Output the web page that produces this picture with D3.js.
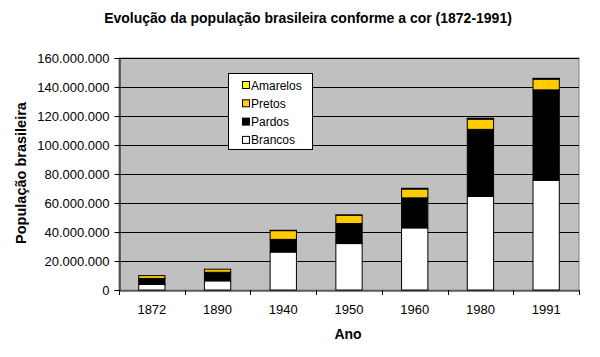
<!DOCTYPE html>
<html><head><meta charset="utf-8">
<script src="https://cdn.jsdelivr.net/npm/d3@7"></script>
<style>body{margin:0;background:#fff}svg{display:block;font-family:"Liberation Sans",Arial,sans-serif}</style>
</head><body>
<svg id="c" width="600" height="357"></svg>
<script>
const years = ["1872","1890","1940","1950","1960","1980","1991"];
const brancos = [3787289, 6302198, 26171778, 32027661, 42838639, 64540467, 75704927];
const pardos = [4188737, 5934291, 8744365, 13786742, 20706431, 46233531, 62316064];
const pretos = [1954452, 2097426, 6035869, 5692657, 6116848, 7046906, 7335136];
const amarelos = [0, 0, 242320, 329082, 482848, 672251, 630656];
const seriesNames = ["Brancos","Pardos","Pretos","Amarelos"];
const seriesColors = ["#ffffff","#000000","#ffcc00","#ffff00"];
const yTicks = [0,20e6,40e6,60e6,80e6,100e6,120e6,140e6,160e6];

const svg = d3.select("#c");
const L=119, R=579, T=58, B=290;
const x = d3.scaleBand().domain(years).range([L,R]).padding(0);
const y = d3.scaleLinear().domain([0,160e6]).range([B,T]);
const loc = d3.formatLocale({decimal:",",thousands:".",grouping:[3],currency:["",""]});
const fmt = loc.format(",.0f");

// plot area
svg.append("rect").attr("x",L).attr("y",T).attr("width",R-L).attr("height",B-T)
  .attr("fill","#c0c0c0").attr("stroke","#808080").attr("stroke-width",1);
// grid
svg.append("g").selectAll("line").data(yTicks.slice(1)).join("line")
  .attr("x1",L).attr("x2",R).attr("y1",d=>Math.round(y(d))+0.5).attr("y2",d=>Math.round(y(d))+0.5)
  .attr("stroke","#000").attr("stroke-width",1);

// stacked bars
const table = years.map((yr,i)=>({year:yr,Brancos:brancos[i],Pardos:pardos[i],Pretos:pretos[i],Amarelos:amarelos[i]}));
const stack = d3.stack().keys(seriesNames)(table);
const bw = x.bandwidth()*0.4;
const g = svg.append("g");
stack.forEach((s,si)=>{
  g.selectAll(null).data(s).join("rect")
    .attr("x",d=>x(d.data.year)+(x.bandwidth()-bw)/2)
    .attr("width",bw)
    .attr("y",d=>y(d[1]))
    .attr("height",d=>Math.max(0,y(d[0])-y(d[1])))
    .attr("fill",seriesColors[si])
    .attr("stroke","#000").attr("stroke-width",1);
});

// y axis
const ya = svg.append("g").attr("transform",`translate(${L+0.5},0)`)
  .call(d3.axisLeft(y).tickValues(yTicks).tickFormat(fmt).tickSize(5).tickPadding(5));
ya.select(".domain").attr("stroke","#000");
ya.selectAll("text").attr("font-size","13px").attr("fill","#000").attr("font-family","Liberation Sans, Arial, sans-serif");
// x axis
const xa = svg.append("g").attr("transform",`translate(0,${B+0.5})`)
  .call(d3.axisBottom(x).tickSize(0).tickPadding(14));
xa.select(".domain").attr("stroke","#000");
xa.selectAll("text").attr("font-size","13px").attr("fill","#000").attr("font-family","Liberation Sans, Arial, sans-serif");
svg.append("g").selectAll("line").data(years.concat(["end"])).join("line")
  .attr("x1",(d,i)=>Math.round(L+i*x.step())+0.5).attr("x2",(d,i)=>Math.round(L+i*x.step())+0.5)
  .attr("y1",B).attr("y2",B+5).attr("stroke","#000");

// titles
svg.append("text").attr("x",308).attr("y",23).attr("text-anchor","middle")
  .attr("font-weight","bold").attr("font-size","14px").text("Evolução da população brasileira conforme a cor (1872-1991)");
svg.append("text").attr("x",348).attr("y",339).attr("text-anchor","middle")
  .attr("font-weight","bold").attr("font-size","14px").text("Ano");
svg.append("text").attr("transform","translate(26,173) rotate(-90)").attr("text-anchor","middle")
  .attr("font-weight","bold").attr("font-size","14.5px").text("População brasileira");

// legend
const lg = svg.append("g");
lg.append("rect").attr("x",228.5).attr("y",73.5).attr("width",84).attr("height",76)
  .attr("fill","#fff").attr("stroke","#000");
const legOrder = [3,2,1,0];
legOrder.forEach((si,k)=>{
  const cy = 85 + k*18.3;
  lg.append("rect").attr("x",242.5).attr("y",cy-3.5).attr("width",7).attr("height",7)
    .attr("fill",seriesColors[si]).attr("stroke","#000");
  lg.append("text").attr("x",251).attr("y",cy+4.5).attr("font-size","12px").text(seriesNames[si]);
});
</script>
</body></html>
